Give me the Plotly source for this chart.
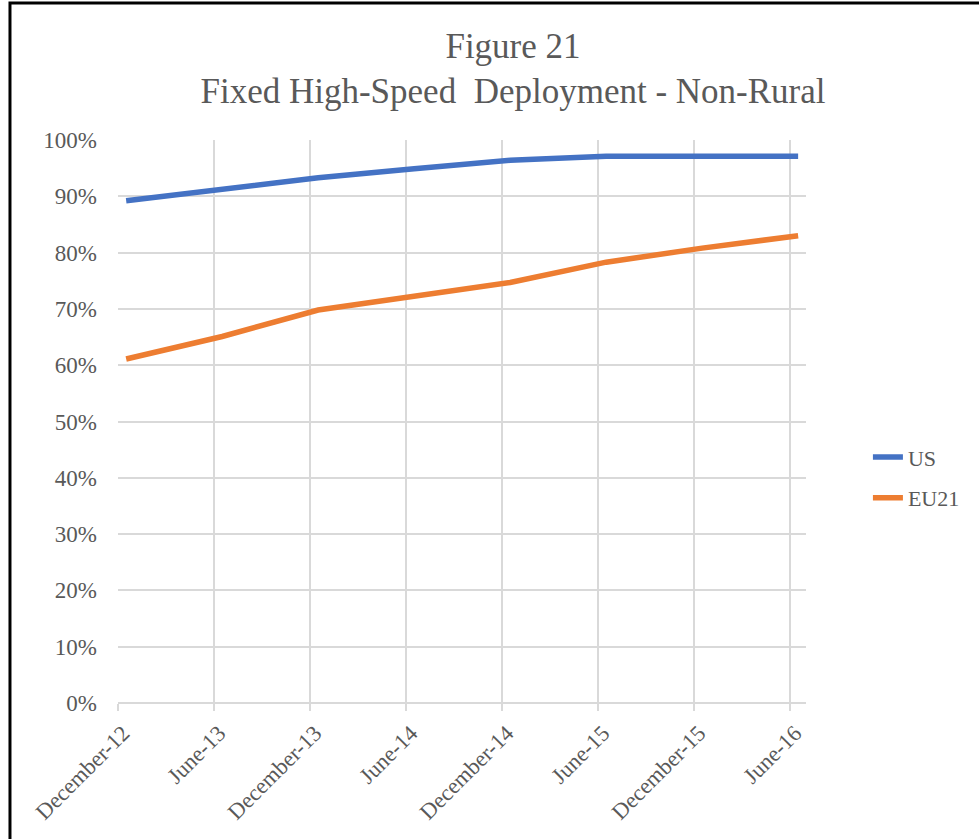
import plotly.graph_objects as go

categories = ["December-12", "June-13", "December-13", "June-14",
              "December-14", "June-15", "December-15", "June-16"]
us_values = [0.892, 0.912, 0.933, 0.949, 0.964, 0.971, 0.971, 0.971]
eu21_values = [0.611, 0.651, 0.698, 0.722, 0.747, 0.783, 0.808, 0.830]
y_ticks = [0, 0.1, 0.2, 0.3, 0.4, 0.5, 0.6, 0.7, 0.8, 0.9, 1.0]

SERIF = "Liberation Serif, Times New Roman, serif"
TXT = "#595959"
GRID = "#d9d9d9"

fig = go.Figure()
# invisible carrier trace so the category axis (grid/ticks/labels) is drawn
fig.add_trace(go.Scatter(x=categories, y=us_values, mode="lines",
                         line=dict(color="rgba(0,0,0,0)", width=0),
                         showlegend=False, hoverinfo="skip", xaxis="x"))
fig.add_trace(go.Scatter(x=categories, y=us_values, name="US", mode="lines",
                         line=dict(color="#4472C4", width=5.5),
                         xaxis="x2", legendgroup="a"))
fig.add_trace(go.Scatter(x=categories, y=eu21_values, name="EU21", mode="lines",
                         line=dict(color="#ED7D31", width=5.5),
                         xaxis="x2", legendgroup="b"))

fig.update_layout(
    width=979, height=839,
    margin=dict(l=118, r=173, t=140, b=136, autoexpand=False),
    paper_bgcolor="white", plot_bgcolor="white",
    font=dict(family=SERIF, color=TXT, size=22),
    title=dict(text="Figure 21<br>Fixed High-Speed  Deployment - Non-Rural",
               x=0.524, xanchor="center", xref="container",
               y=0.931, yanchor="top", yref="container",
               font=dict(family=SERIF, size=35, color=TXT)),
    xaxis=dict(type="category", categoryorder="array", categoryarray=categories,
               range=[0, 7.167], showgrid=True, gridcolor=GRID, gridwidth=2,
               ticks="outside", ticklen=7, tickcolor=GRID, tickwidth=2,
               tickangle=-45, showline=False, zeroline=False,
               ticklabelshift=5, ticklabelstandoff=0, automargin=False,
               tickfont=dict(family=SERIF, size=22.5, color=TXT)),
    xaxis2=dict(type="category", categoryorder="array", categoryarray=categories,
                range=[-0.085, 7.082], overlaying="x", visible=False,
                showgrid=False),
    yaxis=dict(range=[0, 1.0], tickvals=y_ticks, tickformat=".0%",
               showgrid=True, gridcolor=GRID, gridwidth=2,
               zeroline=True, zerolinecolor=GRID, zerolinewidth=2,
               ticks="", ticklabelstandoff=20, automargin=False,
               tickfont=dict(family=SERIF, size=23, color=TXT)),
    legend=dict(x=1.09, xanchor="left", y=0.40, yanchor="middle",
                tracegroupgap=9, font=dict(family=SERIF, size=22, color=TXT),
                bgcolor="rgba(0,0,0,0)"),
    showlegend=True,
    shapes=[dict(type="rect", xref="paper", yref="paper",
                 x0=-0.157, x1=1.4, y0=-0.4, y1=1.2434,
                 line=dict(color="black", width=3), fillcolor="rgba(0,0,0,0)",
                 layer="below")],
)

fig.write_html("out.html", config={"displayModeBar": False},
               post_script="document.body.style.margin='0';")
